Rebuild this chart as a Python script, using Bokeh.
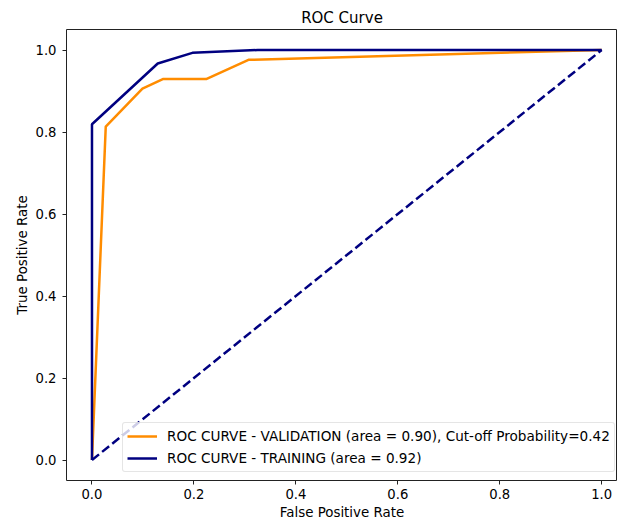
from bokeh.plotting import figure
from bokeh.models import Range1d, Legend, LegendItem, FixedTicker
from bokeh.embed import file_html
from bokeh.resources import INLINE

# Data
val_fpr = [0.0, 0.027, 0.099, 0.139, 0.224, 0.307, 1.0]
val_tpr = [0.0, 0.813, 0.906, 0.929, 0.929, 0.976, 1.0]
train_fpr = [0.0, 0.0, 0.129, 0.197, 0.325, 1.0]
train_tpr = [0.0, 0.819, 0.967, 0.993, 1.0, 1.0]
diag_x = [0.0, 1.0]
diag_y = [0.0, 1.0]
ticks = [0.0, 0.2, 0.4, 0.6, 0.8, 1.0]
val_label = "ROC CURVE - VALIDATION (area = 0.90), Cut-off Probability=0.42"
train_label = "ROC CURVE - TRAINING (area = 0.92)"

FONT = "DejaVu Sans"

p = figure(width=617, height=524, output_backend="svg", toolbar_location=None,
           x_range=Range1d(-0.05, 1.031), y_range=Range1d(-0.05, 1.05),
           min_border_left=66, min_border_right=0, min_border_top=29, min_border_bottom=44,
           title="ROC Curve")
p.background_fill_color = "white"
p.border_fill_color = "white"
p.outline_line_color = "#222222"
p.outline_line_width = 1
p.grid.visible = False

p.title.align = "center"
p.title.text_font = FONT
p.title.text_font_size = "15px"
p.title.text_font_style = "normal"
p.title.text_color = "black"
p.title.standoff = 5

for ax in (p.xaxis[0], p.yaxis[0]):
    ax.ticker = FixedTicker(ticks=ticks)
    ax.axis_line_color = None
    ax.major_tick_line_color = "#222222"
    ax.major_tick_out = 4
    ax.major_tick_in = 0
    ax.minor_tick_line_color = None
    ax.major_label_text_font = FONT
    ax.major_label_text_font_size = "13.2px"
    ax.major_label_text_color = "black"
    ax.axis_label_text_font = FONT
    ax.axis_label_text_font_size = "13.4px"
    ax.axis_label_text_font_style = "normal"
    ax.axis_label_text_color = "black"
    ax.axis_label_standoff = 3

p.xaxis[0].major_label_standoff = 4
p.yaxis[0].major_label_standoff = 6

p.xaxis.axis_label = "False Positive Rate"
p.yaxis.axis_label = "True Positive Rate"
p.xaxis.major_label_overrides = {t: f"{t:.1f}" for t in ticks}
p.yaxis.major_label_overrides = {t: f"{t:.1f}" for t in ticks}

r_val = p.line(val_fpr, val_tpr, line_color="darkorange", line_width=2.5)
r_train = p.line(train_fpr, train_tpr, line_color="navy", line_width=2.5)
p.line(diag_x, diag_y, line_color="navy", line_width=2.5, line_dash="9 4")

legend = Legend(items=[LegendItem(label=val_label, renderers=[r_val]),
                       LegendItem(label=train_label, renderers=[r_train])],
                location=(56, 8))
legend.margin = 0
legend.padding = 4
legend.spacing = 4
legend.label_standoff = 10
legend.glyph_width = 30
legend.glyph_height = 18
legend.label_height = 18
legend.label_text_font = FONT
legend.label_text_font_size = "13.6px"
legend.label_text_color = "black"
legend.border_line_color = "#cccccc"
legend.border_line_width = 1
legend.background_fill_color = "white"
legend.background_fill_alpha = 0.8
legend.border_radius = 3
p.add_layout(legend, "center")

open("out.html", "w").write(file_html(p, INLINE))
